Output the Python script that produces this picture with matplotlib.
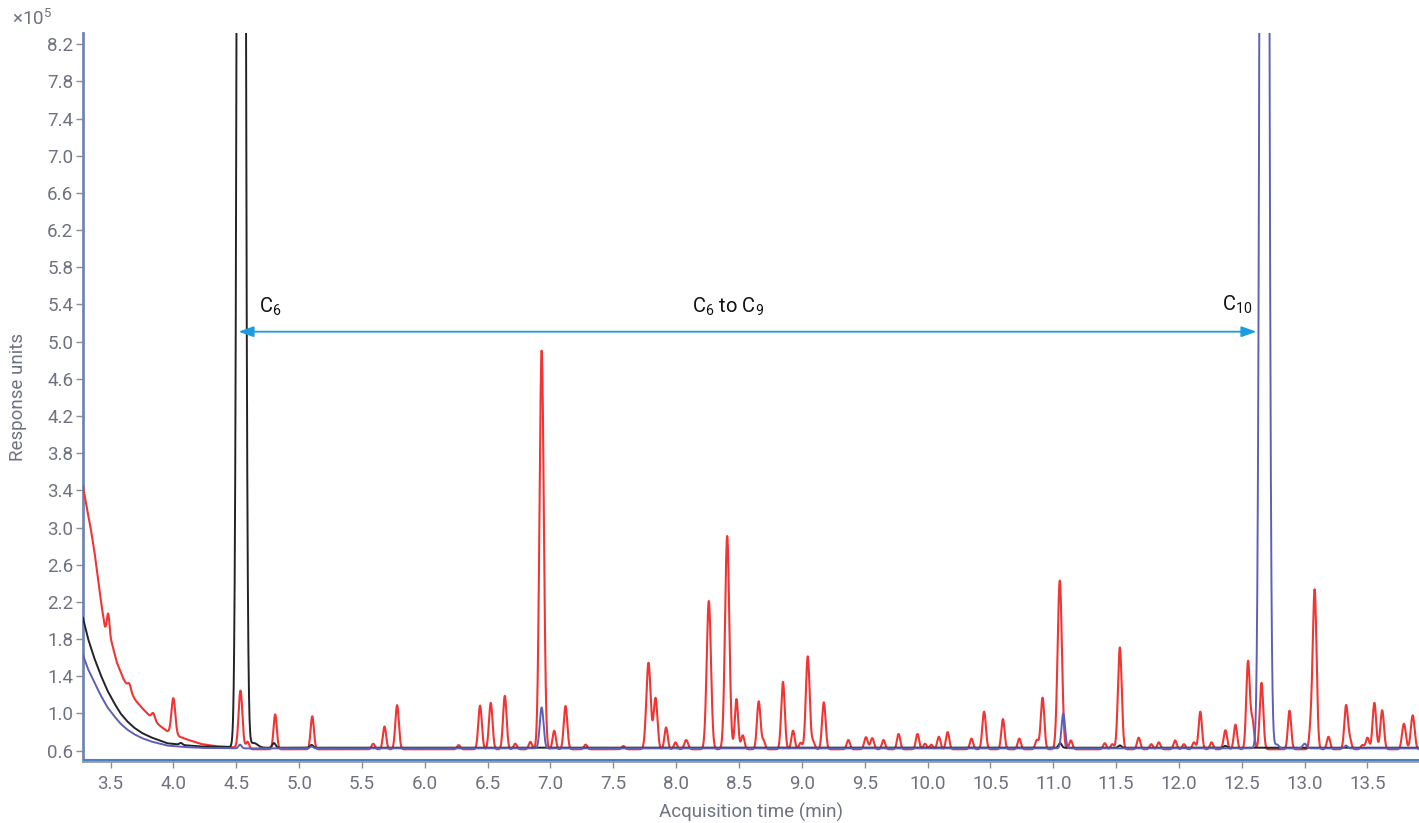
import numpy as np
import matplotlib
matplotlib.use("Agg")
import matplotlib.pyplot as plt

plt.rcParams['font.family'] = ['Roboto', 'DejaVu Sans']
plt.rcParams['mathtext.fontset'] = 'custom'
plt.rcParams['mathtext.rm'] = 'Roboto'
plt.rcParams['mathtext.it'] = 'Roboto:italic'

# ---------------- data ----------------
# baselines (x1e5 response units)
red_base = 0.615
black_base = 0.632
blue_base = 0.625

# early solvent-tail decays: time (min), response
red_decay_t = [3.28, 3.31, 3.34, 3.37, 3.40, 3.43, 3.455, 3.48, 3.51, 3.55, 3.60, 3.65, 3.70, 3.75, 3.80, 3.85, 3.90, 3.95, 4.05, 4.11, 4.22, 4.35, 4.45, 4.60]
red_decay_y = [3.45, 3.22, 3.01, 2.76, 2.45, 2.15, 1.93, 1.86, 1.76, 1.55, 1.38, 1.25, 1.14, 1.06, 0.99, 0.92, 0.86, 0.81, 0.75, 0.72, 0.672, 0.645, 0.64, 0.615]
black_decay_t = [3.28, 3.32, 3.367, 3.42, 3.474, 3.53, 3.58, 3.63, 3.685, 3.75, 3.82, 3.95, 4.08, 4.22, 4.44, 4.60]
black_decay_y = [2.03, 1.81, 1.61, 1.42, 1.25, 1.11, 1.00, 0.92, 0.85, 0.79, 0.745, 0.68, 0.66, 0.645, 0.64, 0.632]
blue_decay_t = [3.28, 3.32, 3.367, 3.42, 3.474, 3.53, 3.58, 3.63, 3.685, 3.75, 3.82, 3.95, 4.08, 4.22, 4.50]
blue_decay_y = [1.63, 1.48, 1.35, 1.20, 1.07, 0.97, 0.89, 0.83, 0.78, 0.735, 0.70, 0.655, 0.64, 0.63, 0.625]

# peak tables: retention time (min), height above baseline, width (sigma, min)
red_rt = [3.482, 3.65, 3.84, 4.00, 4.534, 4.59, 4.81, 5.105, 5.59, 5.68, 5.78, 6.27, 6.44, 6.525, 6.637,
          6.72, 6.84, 6.93, 7.03, 7.12, 7.28, 7.58, 7.78, 7.836, 7.92, 7.995, 8.08, 8.26, 8.406, 8.48,
          8.53, 8.657, 8.695, 8.85, 8.93, 8.99, 9.047, 9.09, 9.175, 9.37, 9.51, 9.56, 9.65, 9.77, 9.92,
          9.98, 10.03, 10.09, 10.16, 10.35, 10.45, 10.60, 10.73, 10.87, 10.915, 11.052, 11.14, 11.41, 11.47,
          11.53, 11.68, 11.78, 11.84, 11.97, 12.04, 12.12, 12.17, 12.26, 12.37, 12.45, 12.55, 12.585, 12.657,
          12.88, 13.05, 13.08, 13.19, 13.33, 13.36, 13.46, 13.50, 13.555, 13.617, 13.79, 13.86]
red_h = [0.22, 0.07, 0.07, 0.385, 0.62, 0.08, 0.375, 0.355, 0.06, 0.245, 0.475, 0.045, 0.47, 0.50, 0.575,
         0.06, 0.08, 4.29, 0.20, 0.465, 0.05, 0.035, 0.93, 0.55, 0.235, 0.075, 0.10, 1.595, 2.295, 0.54,
         0.15, 0.515, 0.09, 0.725, 0.20, 0.07, 1.00, 0.08, 0.505, 0.10, 0.13, 0.12, 0.10, 0.165, 0.165,
         0.06, 0.05, 0.135, 0.185, 0.115, 0.405, 0.325, 0.115, 0.10, 0.555, 1.815, 0.095, 0.065, 0.055,
         1.095, 0.125, 0.055, 0.075, 0.095, 0.055, 0.075, 0.405, 0.075, 0.205, 0.265, 0.945, 0.30, 0.715,
         0.415, 0.22, 1.705, 0.135, 0.47, 0.10, 0.045, 0.125, 0.50, 0.42, 0.275, 0.365]
red_w = [0.010, 0.013, 0.013, 0.015, 0.015, 0.013, 0.013, 0.013, 0.013, 0.013, 0.014, 0.013, 0.014, 0.014, 0.014,
         0.013, 0.013, 0.017, 0.013, 0.014, 0.013, 0.013, 0.017, 0.015, 0.013, 0.013, 0.015, 0.017, 0.017, 0.013,
         0.013, 0.014, 0.013, 0.014, 0.013, 0.013, 0.015, 0.013, 0.014, 0.013, 0.014, 0.014, 0.013, 0.013, 0.013,
         0.013, 0.013, 0.013, 0.013, 0.013, 0.014, 0.013, 0.013, 0.013, 0.014, 0.017, 0.013, 0.013, 0.013,
         0.015, 0.013, 0.013, 0.013, 0.013, 0.013, 0.013, 0.013, 0.013, 0.014, 0.013, 0.014, 0.013, 0.014,
         0.013, 0.013, 0.015, 0.013, 0.014, 0.013, 0.013, 0.013, 0.014, 0.014, 0.015, 0.015]

black_rt = [4.06, 4.54, 4.64, 4.80, 5.10, 11.055, 11.53, 12.37]
black_h = [0.02, 40.0, 0.05, 0.05, 0.03, 0.05, 0.025, 0.02]
black_w = [0.012, 0.021, 0.030, 0.013, 0.012, 0.012, 0.012, 0.012]

blue_rt = [4.53, 5.10, 6.93, 11.08, 12.68, 12.78, 13.00, 13.33]
blue_h = [0.04, 0.02, 0.44, 0.375, 40.0, 0.04, 0.05, 0.03]
blue_w = [0.012, 0.012, 0.015, 0.014, 0.0225, 0.015, 0.015, 0.012]

x_ticks = [3.5, 4.0, 4.5, 5.0, 5.5, 6.0, 6.5, 7.0, 7.5, 8.0, 8.5, 9.0, 9.5, 10.0, 10.5, 11.0, 11.5, 12.0, 12.5, 13.0, 13.5]
y_ticks = [0.6, 1.0, 1.4, 1.8, 2.2, 2.6, 3.0, 3.4, 3.8, 4.2, 4.6, 5.0, 5.4, 5.8, 6.2, 6.6, 7.0, 7.4, 7.8, 8.2]

range_start, range_end, range_level = 4.518, 12.617, 5.107

# ---------------- build traces ----------------
t = np.arange(3.28, 13.93, 0.0015)

def trace(base, dt, dy, rt, h, w):
    y = np.interp(t, dt, dy, right=base)
    for c, a, s in zip(rt, h, w):
        y = y + a * np.exp(-0.5 * ((t - c) / s) ** 2)
    return y

red = trace(red_base, red_decay_t, red_decay_y, red_rt, red_h, red_w)
black = trace(black_base, black_decay_t, black_decay_y, black_rt, black_h, black_w)
blue = trace(blue_base, blue_decay_t, blue_decay_y, blue_rt, blue_h, blue_w)

# ---------------- plot ----------------
fig = plt.figure(figsize=(14.19, 8.23), dpi=100)
ax = fig.add_axes([82.5 / 1419, 1 - 761 / 823, 1 - 82.5 / 1419, (761 - 33) / 823])

ax.plot(t, red, color='#f03535', lw=1.5, zorder=3)
ax.plot(t, black, color='#222228', lw=1.4, zorder=4)
ax.plot(t, blue, color='#5f5fb8', lw=1.4, zorder=5)
ax.axhline(0.503, color='#4a80c8', lw=2.2, zorder=6)

ax.set_xlim(3.277, 13.91)
ax.set_ylim(0.489, 8.32)
ax.set_xticks(x_ticks)
ax.set_xticklabels([f"{v:.1f}" for v in x_ticks])
ax.set_yticks(y_ticks)
ax.set_yticklabels([f"{v:.1f}" for v in y_ticks])

tick_col = '#6e7280'
fs = 13.5
ax.tick_params(axis='both', colors='#8a8d96', labelcolor=tick_col, labelsize=fs, length=5, width=1)
ax.tick_params(axis='x', pad=5)
ax.tick_params(axis='y', pad=1.5)
for s in ['top', 'right']:
    ax.spines[s].set_visible(False)
ax.spines['left'].set_color('#7286b0')
ax.spines['left'].set_linewidth(2)
ax.spines['bottom'].set_color('#9a9ca4')
ax.spines['bottom'].set_linewidth(2)

ax.set_xlabel('Acquisition time (min)', fontsize=fs, color=tick_col)
ax.xaxis.set_label_coords(0.5, -(812 - 761) / 728, transform=ax.transAxes)
ax.xaxis.label.set_va('center')
ax.set_ylabel('Response units', fontsize=fs, color=tick_col)
ax.yaxis.set_label_coords(-(82.5 - 18) / (1419 - 82.5), 0.5)
ax.yaxis.label.set_va('center')

fig.text(12 / 1419, 1 - 19 / 823, '×10$^{5}$', fontsize=fs, color=tick_col, va='center', ha='left')

# range annotation
ax.annotate('', xy=(range_start, range_level), xytext=(range_end, range_level),
            arrowprops=dict(arrowstyle='<|-|>,head_length=0.9,head_width=0.32', color='#1a9de0', lw=1.3,
                            shrinkA=0, shrinkB=0), zorder=7)
ax.text(4.685, 5.37, r'C$_{6}$', fontsize=14.5, color='#111111', ha='left', va='center')
ax.text(8.41, 5.37, r'C$_{6}$ to C$_{9}$', fontsize=14.5, color='#111111', ha='center', va='center')
ax.text(12.585, 5.40, r'C$_{10}$', fontsize=14.5, color='#111111', ha='right', va='center')

fig.savefig('out.png', dpi=100)
